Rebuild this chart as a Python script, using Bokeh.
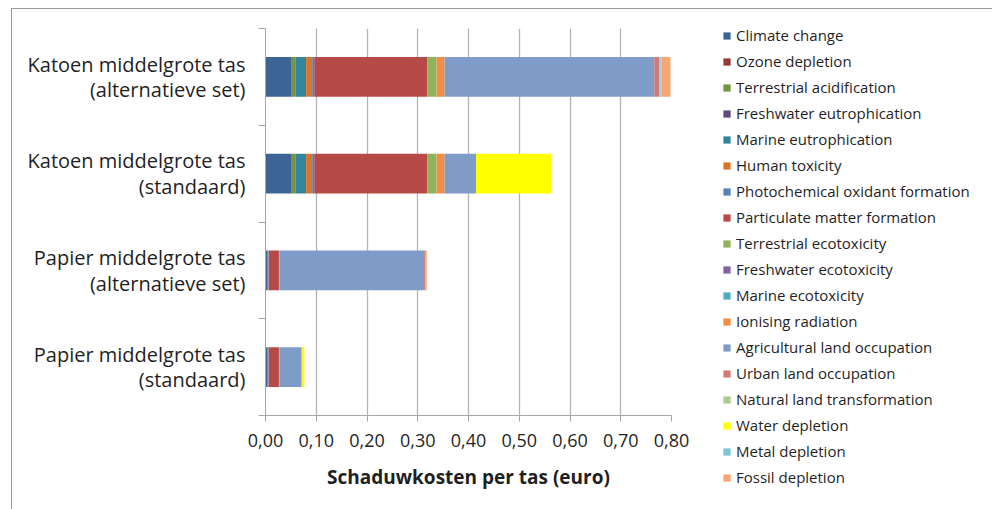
from bokeh.plotting import figure
from bokeh.models import (ColumnDataSource, Range1d, FixedTicker, Legend,
                          LegendItem, LinearAxis)
from bokeh.embed import file_html
from bokeh.resources import INLINE

categories = [
    "Katoen middelgrote tas\n(alternatieve set)",
    "Katoen middelgrote tas\n(standaard)",
    "Papier middelgrote tas\n(alternatieve set)",
    "Papier middelgrote tas\n(standaard)",
]

series_names = [
    "Climate change", "Ozone depletion", "Terrestrial acidification",
    "Freshwater eutrophication", "Marine eutrophication", "Human toxicity",
    "Photochemical oxidant formation", "Particulate matter formation",
    "Terrestrial ecotoxicity", "Freshwater ecotoxicity", "Marine ecotoxicity",
    "Ionising radiation", "Agricultural land occupation", "Urban land occupation",
    "Natural land transformation", "Water depletion", "Metal depletion",
    "Fossil depletion",
]

climate_change = [0.051, 0.051, 0.003, 0.003]
ozone_depletion = [0.001, 0.001, 0.0, 0.0]
terrestrial_acidification = [0.006, 0.006, 0.0005, 0.0005]
freshwater_eutrophication = [0.001, 0.001, 0.0, 0.0]
marine_eutrophication = [0.021, 0.021, 0.002, 0.002]
human_toxicity = [0.012, 0.012, 0.0005, 0.0005]
photochemical_oxidant = [0.004, 0.004, 0.0005, 0.0005]
particulate_matter = [0.223, 0.223, 0.020, 0.020]
terrestrial_ecotoxicity = [0.018, 0.018, 0.0, 0.0]
freshwater_ecotoxicity = [0.0, 0.0, 0.0, 0.0]
marine_ecotoxicity = [0.0, 0.0, 0.0, 0.0]
ionising_radiation = [0.016, 0.016, 0.001, 0.001]
agricultural_land = [0.413, 0.062, 0.285, 0.043]
urban_land = [0.010, 0.0, 0.003, 0.001]
natural_land = [0.002, 0.0, 0.0, 0.0]
water_depletion = [0.0, 0.148, 0.0, 0.005]
metal_depletion = [0.002, 0.0, 0.0, 0.0]
fossil_depletion = [0.018, 0.0, 0.002, 0.0]

colors = [
    "#3C6496", "#953735", "#76923C", "#5F497A", "#31859C", "#D9752A",
    "#4F81BD", "#B54A48", "#8FB35A", "#8064A2", "#4BACC6", "#EE8F45",
    "#7F9CC9", "#D07B7B", "#AFCB85", "#FFFF00", "#7DC3D6", "#F9A672",
]

x_ticks = [0.0, 0.1, 0.2, 0.3, 0.4, 0.5, 0.6, 0.7, 0.8]
x_tick_labels = ["0,00", "0,10", "0,20", "0,30", "0,40", "0,50", "0,60", "0,70", "0,80"]

values = [
    climate_change, ozone_depletion, terrestrial_acidification, freshwater_eutrophication,
    marine_eutrophication, human_toxicity, photochemical_oxidant, particulate_matter,
    terrestrial_ecotoxicity, freshwater_ecotoxicity, marine_ecotoxicity, ionising_radiation,
    agricultural_land, urban_land, natural_land, water_depletion, metal_depletion,
    fossil_depletion,
]

n_cat = len(categories)
# band positions: first category at the top
cat_pos = [n_cat - 0.5 - i for i in range(n_cat)]

keys = ["s%d" % i for i in range(len(series_names))]
data = {"pos": cat_pos}
for k, v in zip(keys, values):
    data[k] = v
source = ColumnDataSource(data)

FONT = "Open Sans"
TXT = "#1f1f1f"
AXIS = "#A6A6A6"

p = figure(
    y_range=Range1d(0, n_cat),
    x_range=Range1d(0, 0.8),
    y_axis_location=None,
    frame_width=406, frame_height=387,
    min_border_left=253, min_border_right=320, min_border_top=19, min_border_bottom=95,
    output_backend="svg", toolbar_location=None,
)
p.outline_line_color = None
p.background_fill_color = "white"
p.border_fill_color = "white"

renderers = p.hbar_stack(keys, y="pos", height=0.41, color=colors, source=source, line_color=None)

items = [LegendItem(label=n, renderers=[r]) for n, r in zip(series_names, renderers)]
legend = Legend(
    items=items, location=(51, -72),
    glyph_width=9, glyph_height=9, label_height=20, spacing=6,
    label_standoff=5, padding=0, margin=0,
    border_line_color=None, background_fill_alpha=0,
    label_text_font=FONT, label_text_font_size="15px", label_text_color=TXT,
)
p.add_layout(legend, "right")

# axis with tick marks at the category boundaries
bound_ticks = list(range(n_cat + 1))
bound_axis = LinearAxis(
    ticker=FixedTicker(ticks=bound_ticks),
    major_label_overrides={t: "" for t in bound_ticks},
    axis_line_color=AXIS, major_tick_line_color=AXIS,
    major_tick_in=0, major_tick_out=7, minor_tick_line_color=None,
    major_label_standoff=0,
)
p.add_layout(bound_axis, "left")

# axis carrying the category names at the band centres
cat_axis = LinearAxis(
    ticker=FixedTicker(ticks=cat_pos),
    major_label_overrides=dict(zip(cat_pos, categories)),
    axis_line_color=None, major_tick_line_color=None, major_tick_in=0, major_tick_out=0,
    minor_tick_line_color=None,
    major_label_text_font=FONT, major_label_text_font_size="20px",
    major_label_text_line_height=0.95, major_label_text_align="center",
    major_label_text_color=TXT, major_label_standoff=13,
)
p.add_layout(cat_axis, "left")

p.xaxis.ticker = FixedTicker(ticks=x_ticks)
p.xaxis.major_label_overrides = dict(zip(x_ticks, x_tick_labels))
p.xaxis.axis_label = "Schaduwkosten per tas (euro)"
p.xaxis.axis_label_text_font = FONT
p.xaxis.axis_label_text_font_style = "bold"
p.xaxis.axis_label_text_font_size = "19px"
p.xaxis.axis_label_text_color = TXT
p.xaxis.axis_label_standoff = 14
p.xaxis.major_label_text_font = FONT
p.xaxis.major_label_text_font_size = "18px"
p.xaxis.major_label_text_color = TXT
p.xaxis.major_label_standoff = 12
p.xaxis.axis_line_color = AXIS
p.xaxis.major_tick_line_color = AXIS
p.xaxis.major_tick_in = 0
p.xaxis.major_tick_out = 6
p.xaxis.minor_tick_line_color = None

p.xgrid.grid_line_color = "#B4B4B4"
p.xgrid.grid_line_width = 1.3
p.ygrid.grid_line_color = None

p.styles = {"border": "1px solid #9A9A9A", "margin-left": "11px", "margin-top": "8px"}

open("out.html", "w").write(file_html(p, INLINE))
